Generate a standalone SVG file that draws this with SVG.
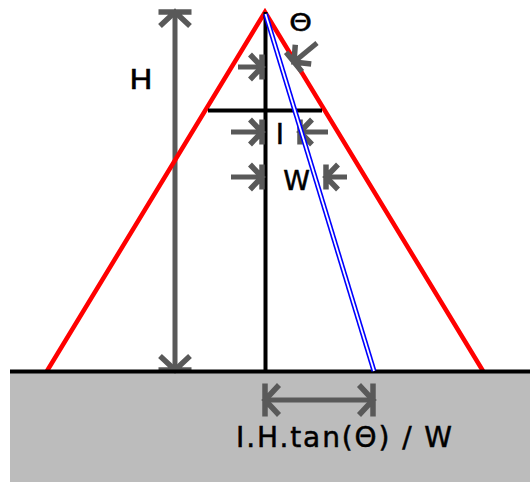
<svg xmlns="http://www.w3.org/2000/svg" width="530" height="482" viewBox="0 0 530 482">
<style>
.dim{fill:none;stroke:#595959;stroke-width:5;}
.lbl{font-family:"DejaVu Sans",sans-serif;fill:#000;stroke:#000;stroke-width:0.5;}
</style>
<defs>
<marker id="distS" markerUnits="userSpaceOnUse" orient="auto-start-reverse" markerWidth="40" markerHeight="40" viewBox="-20 -20 40 40" refX="0" refY="0" overflow="visible">
<path d="M0,-12.5V12.5M-12,-12.5L0,0L-12,12.5" fill="none" stroke="#595959" stroke-width="5.5"/>
</marker>
<marker id="distL" markerUnits="userSpaceOnUse" orient="auto-start-reverse" markerWidth="40" markerHeight="40" viewBox="-20 -20 40 40" refX="0" refY="0" overflow="visible">
<path d="M0,-16.5V16.5M-14,-15L0,0L-14,15" fill="none" stroke="#595959" stroke-width="5.5"/>
</marker>
</defs>
<rect id="ground" x="10" y="373" width="520" height="109" fill="#bcbcbc"/>
<g id="connectors">
<path id="h-arrow" class="dim" d="M175,12V370" marker-start="url(#distL)" marker-end="url(#distL)"/>
<polyline id="mountain" points="47,371 265,12 483,371" fill="none" stroke="#ff0000" stroke-width="4.5" stroke-linejoin="miter"/>
<path id="ground-line" d="M10,371.5H530" stroke="#000" stroke-width="4"/>
<path id="axis" d="M265.5,12V371" stroke="#000" stroke-width="4"/>
<path id="crossbar" d="M208,110.5H322" stroke="#000" stroke-width="4"/>
<path id="theta-left" class="dim" d="M238,67H262" marker-end="url(#distS)"/>
<path id="theta-right" class="dim" d="M317,43L294,62" marker-end="url(#distS)"/>
<path id="i-left" class="dim" d="M231,132H262" marker-end="url(#distS)"/>
<path id="i-right" class="dim" d="M328,132H300" marker-end="url(#distS)"/>
<path id="w-left" class="dim" d="M231,177H262" marker-end="url(#distS)"/>
<path id="w-right" class="dim" d="M347,177H326" marker-end="url(#distS)"/>
<g id="ray">
<path d="M265.5,14L374,371" stroke="#0000ff" stroke-width="5" fill="none"/>
<path d="M265.5,14L374,371" stroke="#ffffff" stroke-width="1.8" fill="none"/>
</g>
<path id="shift-arrow" class="dim" d="M265,400H373" marker-start="url(#distL)" marker-end="url(#distL)"/>
</g>
<g id="label-H"><text class="lbl" font-size="26" text-anchor="middle" transform="translate(141,89) scale(1.2,1)">H</text></g>
<g id="label-theta"><text class="lbl" font-size="24" text-anchor="middle" transform="translate(300.5,31) scale(1.2,1)">Θ</text></g>
<g id="label-I"><text class="lbl" x="280" y="144" font-size="28" text-anchor="middle">I</text></g>
<g id="label-W"><text class="lbl" x="296.5" y="190" font-size="27" text-anchor="middle">W</text></g>
<g id="label-formula"><text class="lbl" x="236" y="447" font-size="28" textLength="216" lengthAdjust="spacing">I.H.tan(Θ) / W</text></g>
</svg>
